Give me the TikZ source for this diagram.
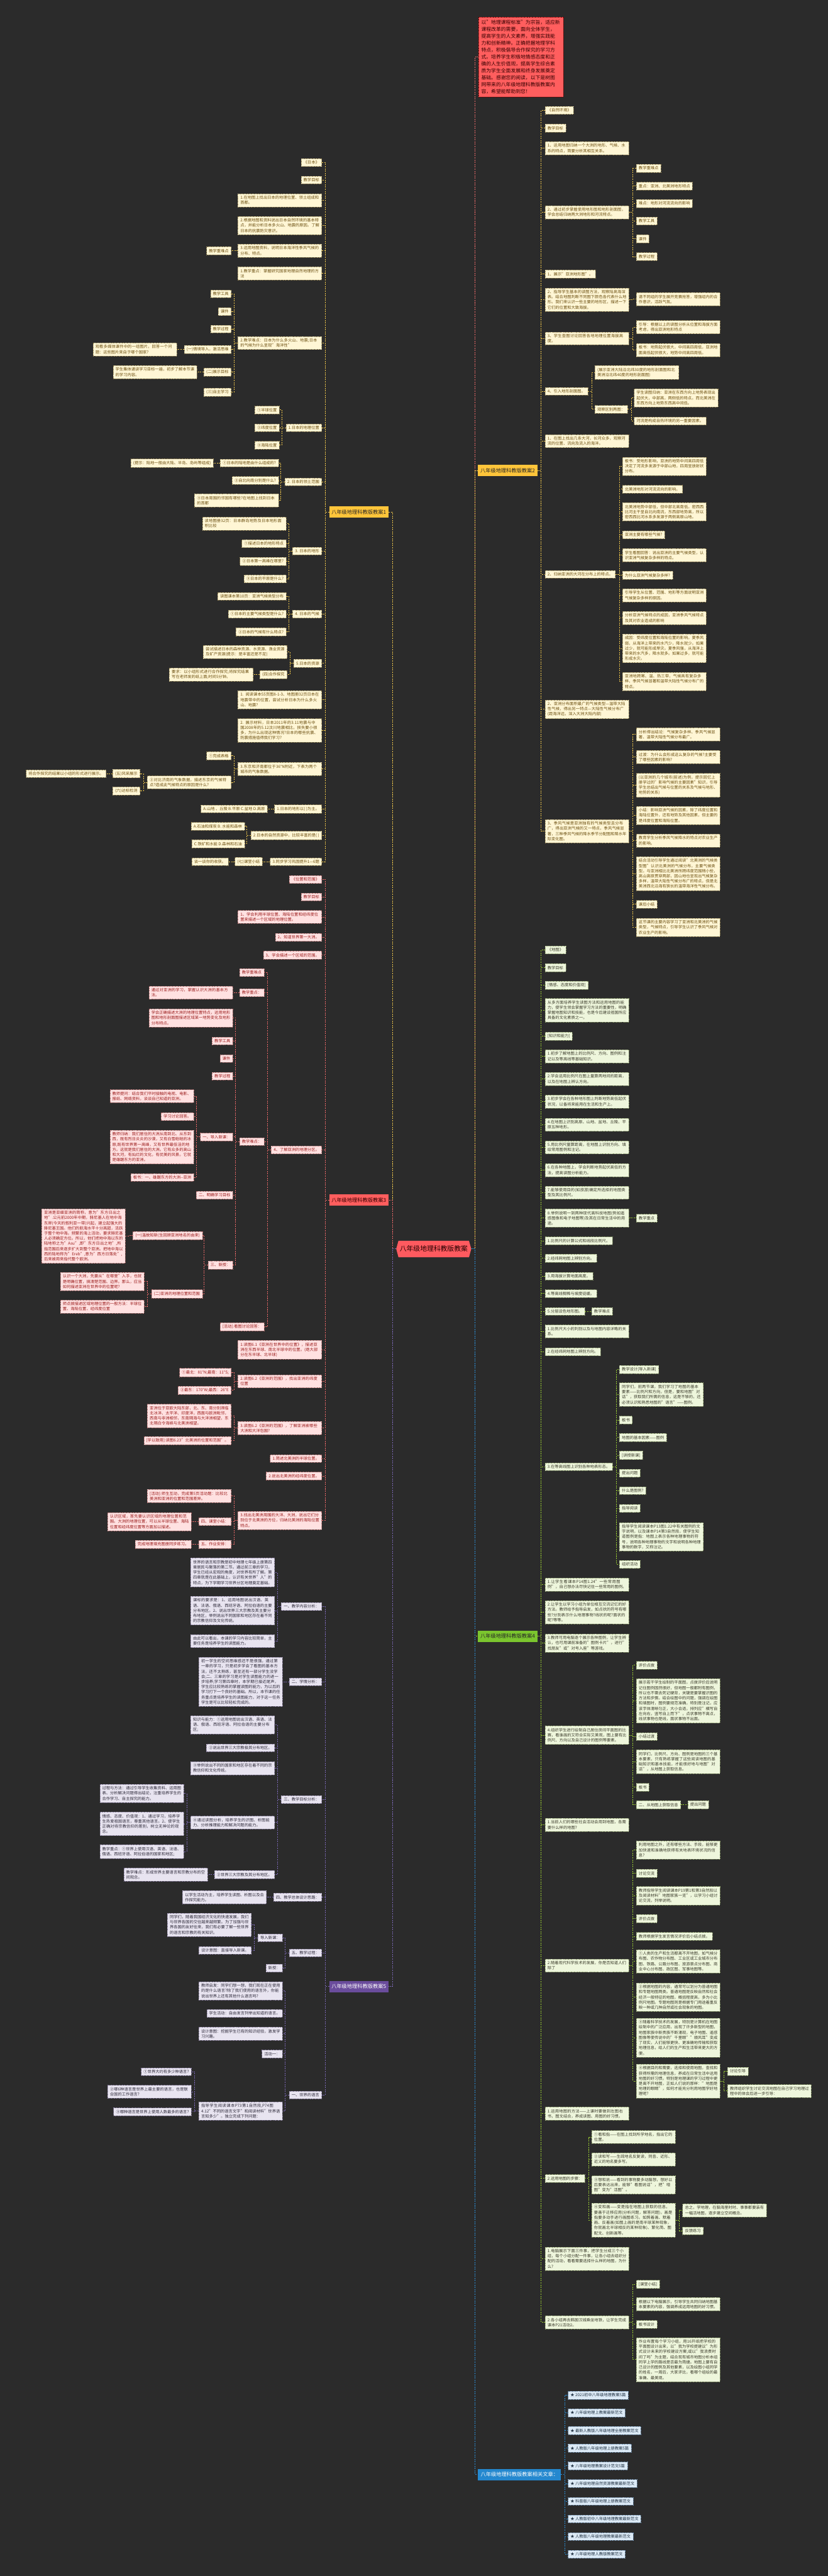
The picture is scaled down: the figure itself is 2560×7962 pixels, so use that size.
\documentclass[tikz,border=0pt]{standalone}
\usepackage{fontspec}
\setmainfont{Noto Sans CJK SC}
\usepackage{tikz}
\usetikzlibrary{positioning}
\XeTeXlinebreaklocale "zh"
\XeTeXlinebreakskip=0pt plus 1pt
\definecolor{bgc}{HTML}{2B2B2B}
\definecolor{rootc}{HTML}{FF5A5F}
\definecolor{ylw}{HTML}{FFC53A}
\definecolor{ycream}{HTML}{FFF6D5}
\definecolor{yedge}{HTML}{9A8A5A}
\definecolor{ytext}{HTML}{6B4F10}
\definecolor{ylinkc}{HTML}{F2C94C}
\definecolor{redc}{HTML}{FF5E5E}
\definecolor{rpink}{HTML}{FFE1E1}
\definecolor{redge}{HTML}{B07070}
\definecolor{rtext}{HTML}{9B1C1C}
\definecolor{rlinkc}{HTML}{EE6A6A}
\definecolor{grn}{HTML}{7BC52E}
\definecolor{gpale}{HTML}{EEF6DC}
\definecolor{gedge}{HTML}{8A9A6A}
\definecolor{gtext}{HTML}{3B3B2B}
\definecolor{glinkc}{HTML}{9ACD32}
\definecolor{prp}{HTML}{6A4C9C}
\definecolor{ppale}{HTML}{E8E4F0}
\definecolor{pedge}{HTML}{8A80A0}
\definecolor{ptext}{HTML}{2E2A3A}
\definecolor{plinkc}{HTML}{7B68B5}
\definecolor{blu}{HTML}{2488CF}
\definecolor{bpale}{HTML}{DCEAF6}
\definecolor{bedge}{HTML}{7090B0}
\definecolor{btext}{HTML}{223344}
\definecolor{blinkc}{HTML}{2C8FD6}
\newcommand{\leaffont}{\fontsize{12.2}{16}\selectfont}
\newcommand{\labfont}{\fontsize{16}{19}\selectfont}
\newcommand{\linkR}[3]{\foreach \c in {#3}{\draw[#1] (#2.east) -- ++(12,0) |- (\c.west);}}
\newcommand{\linkL}[3]{\foreach \c in {#3}{\draw[#1] (#2.west) -- ++(-12,0) |- (\c.east);}}
\tikzset{
  leaf/.style={rectangle, draw, dash pattern=on 3pt off 2pt, line width=0.8pt,
    inner xsep=7.5pt, inner ysep=6.5pt, font=\leaffont, align=left},
  wtxt/.style={text width=244pt},
  ry/.style={leaf, anchor=west, fill=ycream, draw=yedge, text=ytext},
  ly/.style={leaf, anchor=east, fill=ycream, draw=yedge, text=ytext},
  lr/.style={leaf, anchor=east, fill=rpink, draw=redge, text=rtext},
  rg/.style={leaf, anchor=west, fill=gpale, draw=gedge, text=gtext},
  lp/.style={leaf, anchor=east, fill=ppale, draw=pedge, text=ptext},
  rb/.style={leaf, anchor=west, fill=bpale, draw=bedge, text=btext},
  branch/.style={rectangle, inner xsep=7pt, inner ysep=10pt, font=\labfont},
  link/.style={dash pattern=on 4pt off 3pt, line width=1.6pt},
  ylink/.style={link, draw=ylinkc},
  rlink/.style={link, draw=rlinkc},
  glink/.style={link, draw=glinkc},
  plink/.style={link, draw=plinkc},
  blink/.style={link, draw=blinkc}
}
\begin{document}
\begin{tikzpicture}[x=1pt, y=-1pt]
\useasboundingbox (0,0) rectangle (2560,7962);
\fill[bgc] (0,0) rectangle (2560,7962);

% root
\fill[rootc] (1225,3860) -- (1232,3835) -- (1450,3835) -- (1457,3860) -- (1450,3886) -- (1232,3886) -- cycle;
\node[minimum width=232pt, minimum height=51pt, inner sep=0pt, font=\fontsize{21}{24}\selectfont, text=black!85!red] (root) at (1341,3860) {八年级地理科教版教案};

% intro
\node[rectangle, anchor=north west, fill=redc, draw=red!45!black, dash pattern=on 3pt off 2pt, text=black!80!red,
  text width=245pt, inner xsep=9pt, inner ysep=10pt, align=left, font=\fontsize{15.2}{21.3}\selectfont] (intro) at (1479,52)
  {以"地理课程标准"为宗旨，适应新\\课程改革的需要，面向全体学生，\\提高学生的人文素养，增强实践能\\力和创新精神。正确把握地理学科\\特点，积极倡导合作探究的学习方\\式。培养学生积极地情感态度和正\\确的人生价值观，提高学生综合素\\质为学生全面发展和终身发展奠定\\基础。感谢您的阅读，以下是树图\\网带来的八年级地理科教版教案内\\容，希望能帮助到您！};

% branch labels
\node[branch, anchor=east, fill=ylw, text=black!85] (A) at (1201,1583) {八年级地理科教版教案1};
\node[branch, anchor=west, fill=ylw, text=black!85] (B) at (1478,1454) {八年级地理科教版教案2};
\node[branch, anchor=east, fill=redc, text=black!80!red] (C) at (1201,3709) {八年级地理科教版教案3};
\node[branch, anchor=west, fill=grn, text=black!85] (D) at (1478,5057) {八年级地理科教版教案4};
\node[branch, anchor=east, fill=prp, text=white] (E) at (1201,6140) {八年级地理科教版教案5};
\node[branch, anchor=west, fill=blu, text=white, inner xsep=8pt] (F) at (1478,7648) {八年级地理科教版教案相关文章：};

\draw[rlink] (root.east) -- ++(11,0) |- (intro.west);
\linkR{ylink}{root}{B}
\linkR{glink}{root}{D}
\linkR{blink}{root}{F}
\linkL{ylink}{root}{A}
\linkL{rlink}{root}{C}
\linkL{plink}{root}{E}

% ---- 教案2 (right, yellow)
\node[ry] (B1) at (1685,341) {《自然环境》};
\node[ry] (B2) at (1685,396) {教学目标};
\node[ry, wtxt] (B3) at (1685,458) {1、运用地图归纳一个大洲的地形、气候、水系的特点，简要分析其相互关系。};
\node[ry, wtxt] (B4) at (1685,656) {2、通过初步掌握使用地形图和地形剖面图，学会总结归纳两大洲地形和河流特点。};
\node[ry] (B4a) at (1967,520) {教学重难点};
\node[ry] (B4b) at (1967,575) {重点：亚洲、北美洲地形特点};
\node[ry] (B4c) at (1967,629) {难点：地形对河流流向的影响};
\node[ry] (B4d) at (1967,683) {教学工具};
\node[ry] (B4e) at (1967,738) {课件};
\node[ry] (B4f) at (1967,793) {教学过程};
\node[ry] (B5) at (1685,847) {1、展示"亚洲地形图"。};
\node[ry, wtxt] (B6) at (1685,926) {2、指导学生基本的读图方法，观察陆高海深表。结合地图判断不同图下颜色各代表什么地形。我们来认识一些主要的地形区，描述一下它们的位置和大致海拔。};
\node[ry, wtxt] (B6a) at (1967,925) {请不同组的学生展开竞赛抢答，增强组内的合作意识，活跃气氛。};
\node[ry, wtxt] (B7) at (1685,1046) {3、学生查图讨论回答各地地理位置海拔高度。};
\node[ry, wtxt] (B7a) at (1967,1011) {引导：根据以上的读图分析从位置和海拔方面考虑，得出亚洲地形特点};
\node[ry, wtxt] (B7b) at (1967,1082) {板书：地势起伏很大，中间高四周低，亚洲地面高低起伏很大，地势中间高四周低。};
\node[ry] (B8) at (1685,1209) {4、引入地形剖面图。};
\node[ry, wtxt] (B8a) at (1839,1151) {(展示亚洲大陆沿北纬30度的地形剖面图和北美洲沿北纬40度的地形剖面图)};
\node[ry] (B8b) at (1839,1265) {观察区别两图：};
\node[ry, wtxt] (B8b1) at (1960,1230) {学生读图归纳：亚洲在东西方向上地势表现出起伏大，中部高，两侧低的特点。而北美洲在东西方向上地势东西高中间低。};
\node[ry] (B8b2) at (1960,1301) {河流是构成自热环境的另一重要因素。};
\node[ry, wtxt] (B9) at (1685,1363) {1、在图上找出几条大河，长河众多，观察河流的位置、流向及流入的海洋。};
\node[ry] (B10) at (1685,1775) {2、归纳亚洲的大河在分布上的特点。};
\node[ry, wtxt] (B10a) at (1924,1441) {板书：受地形影响，亚洲的地势中间高四周低决定了河流多发源于中部山地，四周呈放射状分布。};
\node[ry] (B10c) at (1924,1512) {北美洲地形对河流流向的影响。};
\node[ry, wtxt] (B10d) at (1924,1582) {北美洲地势中部低，但中部北高南低。密西西比河主干呈自北向南流，东西部地势高，所以密西西比河水系多发源于两侧高原山地。};
\node[ry] (B10e) at (1924,1653) {亚洲主要有哪些气候?};
\node[ry, wtxt] (B10f) at (1924,1716) {学生看图回答：说出亚洲的主要气候类型，认识亚洲气候复杂多样的特点。};
\node[ry] (B10g) at (1924,1778) {为什么亚洲气候复杂多样?};
\node[ry, wtxt] (B10h) at (1924,1840) {引导学生从位置、范围、地形等方面说明亚洲气候复杂多样的原因。};
\node[ry, wtxt] (B10i) at (1924,1910) {分析亚洲气候特点的成因，亚洲季风气候特点及其对农业造成的影响};
\node[ry, wtxt] (B10j) at (1924,2004) {成因：受纬度位置和海陆位置的影响。夏季风弱，从海洋上带来的水汽少，降水就少。如果过少，就可能形成旱灾。夏季风强，从海洋上带来的水汽多，降水就多。如果过多，就可能形成水灾。};
\node[ry, wtxt] (B10k) at (1924,2106) {亚洲地跨寒、温、热三带，气候具有复杂多样、季风气候显著和温带大陆性气候分布广的特点。};
\node[ry, wtxt] (B11) at (1685,2192) {2、亚洲分布面积最广的气候类型—温带大陆性气候，得出另一特点—大陆性气候分布广(距海洋远，深入大洲大陆内部)};
\node[ry, wtxt] (B12) at (1685,2569) {3、季风气候是亚洲独有的气候类型且分布广，得出亚洲气候的又一特点，季风气候显著，三种季风气候的降水季节分配图和降水年际变化图。};
\node[ry, wtxt] (B12a) at (1967,2270) {分析得出结论：气候复杂多样、季风气候显著、温带大陆性气候分布最广。};
\node[ry, wtxt] (B12b) at (1967,2340) {过渡：为什么会形成这么复杂的气候?主要受了哪些因素的影响?};
\node[ry, wtxt] (B12c) at (1967,2427) {(以亚洲的几个城市(前述)为例，提示回忆上册学过的"影响气候的主要因素"知识，引导学生总结出气候与位置的关系及气候与地形、地势的关系)};
\node[ry, wtxt] (B12d) at (1967,2520) {小结：影响亚洲气候的因素，除了纬度位置和海陆位置外，还有地势及其他因素，但主要的是纬度位置和海陆位置。};
\node[ry, wtxt] (B12e) at (1967,2598) {教育学生分析季风气候降水的特点对农业生产的影响。};
\node[ry, wtxt] (B12f) at (1967,2700) {结合活动引导学生通过阅读"北美洲的气候类型图"认识北美洲的气候分布，主要气候类型。与亚洲相比北美洲所跨纬度范围稍小些，高山高原贯穿两部，因山地也呈现出气候复杂多样，温带大陆性气候分布广的特点，但是北美洲西北沿海有狭长的温带海洋性气候分布。};
\node[ry] (B12g) at (1967,2795) {课后小结};
\node[ry, wtxt] (B12h) at (1967,2866) {这节课的主要内容学习了亚洲和北美洲的气候类型，气候特点，引导学生认识了季风气候对农业生产的影响。};

\linkR{ylink}{B}{B1,B2,B3,B4,B5,B6,B7,B8,B9,B10,B11,B12}
\linkR{ylink}{B4}{B4a,B4b,B4c,B4d,B4e,B4f}
\linkR{ylink}{B6}{B6a}
\linkR{ylink}{B7}{B7a,B7b}
\linkR{ylink}{B8}{B8a,B8b}
\linkR{ylink}{B8b}{B8b1,B8b2}
\linkR{ylink}{B10}{B10a,B10c,B10d,B10e,B10f,B10g,B10h,B10i,B10j,B10k}
\linkR{ylink}{B12}{B12a,B12b,B12c,B12d,B12e,B12f,B12g,B12h}

% ---- 教案4 (right, green)
\node[rg] (D1) at (1685,2936) {《地图》};
\node[rg] (D2) at (1685,2991) {教学目标};
\node[rg] (D3) at (1685,3045) {[情感、态度和价值观]};
\node[rg, wtxt] (D4) at (1685,3122) {从多方面培养学生读图方法和运用地图的能力，使学生领会掌握学习方法的重要性，明确掌握地图知识和技能，也是今后建设祖国所应具备的文化素质之一。};
\node[rg] (D5) at (1685,3202) {[知识和能力]};
\node[rg, wtxt] (D6) at (1685,3265) {1.初步了解地图上的比例尺、方向、图例和注记以及等高线等基础知识。};
\node[rg, wtxt] (D7) at (1685,3335) {2.学会运用比例尺在图上量算两地间的距离，以及在地图上辨认方向。};
\node[rg, wtxt] (D8) at (1685,3405) {3.初步学会在各种地形图上判断地势高低起伏状况，以备将来能用在生活和生产上。};
\node[rg, wtxt] (D9) at (1685,3476) {4.在地图上识别高原、山地、盆地、丘陵、平原五种地形。};
\node[rg, wtxt] (D10) at (1685,3546) {5.用比例尺量算距离，在地图上识别方向、填绘常用图例和注记。};
\node[rg, wtxt] (D11) at (1685,3617) {6.在各种地图上，学会判断地势起伏高低的方法，提高读图分析能力。};
\node[rg, wtxt] (D12) at (1685,3686) {7.能够使用目的(如旅游)确定所选择的地图类型及其比例尺。};
\node[rg, wtxt] (D13) at (1685,3765) {8.举例说明一到两种现代高科技地图(例如遥感图像和电子地图等)及其在日常生活中的用途。};
\node[rg] (D13a) at (1967,3765) {教学重点};
\node[rg] (D14) at (1685,3835) {1.比例尺的计算公式和线段比例尺。};
\node[rg] (D15) at (1685,3889) {2.经纬网地图上辨别方向。};
\node[rg] (D16) at (1685,3944) {3.用海拔计算地面高度。};
\node[rg] (D17) at (1685,3998) {4.等高线稠稀与坡度徒缓。};
\node[rg] (D18) at (1685,4053) {5.分层设色地形图。};
\node[rg] (D18a) at (1829,4053) {教学难点};
\node[rg, wtxt] (D19) at (1685,4115) {1.比例尺大小的判别以及与地图内容详略的关系。};
\node[rg] (D20) at (1685,4178) {2.在经纬网地图上辨别方向。};
\node[rg] (D21) at (1685,4533) {3.在等高线图上识别各种地表形态。};
\node[rg] (D21a) at (1915,4233) {教学设计[导入新课]};
\node[rg, wtxt] (D21b) at (1915,4310) {同学们，前两节课，我们学习了地图的基本要素——比例尺和方向，但是，要和地图"对话"，获取我们所需的信息，这是不够的，还必须认识和熟悉地图的"语言"——图例。};
\node[rg] (D21c) at (1915,4389) {板书};
\node[rg] (D21d) at (1915,4443) {地图的基本因素——图例};
\node[rg] (D21e) at (1915,4498) {[讲授新课]};
\node[rg] (D21f) at (1915,4553) {提出问题};
\node[rg] (D21g) at (1915,4607) {什么是图例?};
\node[rg] (D21h) at (1915,4662) {指导阅读};
\node[rg, wtxt] (D21i) at (1915,4750) {指导学生阅读课本P13图1.22中有关图例的文字说明，以及课本P14第3自然段，使学生知道图例是指：地图上表示各种地理事物的符号，说明各种地理事物的文字和说明各种地理事物的数字，又称注记。};
\node[rg] (D21j) at (1915,4835) {组织活动};
\node[rg, wtxt] (D22) at (1685,4897) {1.让学生看课本P14图1.24"一些常用图例"，自己想办法尽快记住一些常用的图例。};
\node[rg, wtxt] (D23) at (1685,4983) {2.让学生以学习小组为单位相互交流记忆的好方法。教师给予指导启发，如点状的符号有哪些?分别表示什么地理事物?线状的呢?面状的呢?等等。};
\node[rg, wtxt] (D24) at (1685,5078) {3.教师可用电脑逐个展示各种图例，让学生辨认，也可用课前准备的"图例卡片"，进行"找朋友"或"对号入座"等游戏。};
\node[rg, wtxt] (D25) at (1685,5363) {4.组织学生进行绘制自己居住房间平面图的比赛，看谁画的又符合实际又美观，图上要有比例尺、方向以及自己设计的图例等要素。};
\node[rg] (D25a) at (1967,5147) {评价点拨};
\node[rg, wtxt] (D25b) at (1967,5257) {展示若干学生绘制的平面图，点拨评价后说明记住图例固然很好，但地图一般都附有图例，所以也不需去死记硬背，关键是要掌握识图的方法和步骤。结合绘图中的问题，强调在绘图和填图时，图例要规范准确，特别是注记，应该字体清晰匀正，大小合适，排列应"横写自左向右，竖写自上而下"，点状事物不离点，线状事物也是线，面状事物不出面。};
\node[rg] (D25c) at (1967,5367) {小结过渡};
\node[rg, wtxt] (D25d) at (1967,5445) {同学们，比例尺、方向、图例是地图的三个基本要素，只有熟练掌握了这些阅读地图的基础知识和基本技能，才能很好地与地图"对话"，从地图上获取信息。};
\node[rg] (D25e) at (1967,5524) {板书};
\node[rg] (D25f) at (1967,5578) {二、从地图上获取信息};
\node[rg] (D25f1) at (2126,5578) {提出问题};
\node[rg, wtxt] (D26) at (1685,5640) {1.当前人们的哪些社会活动会用到地图，各需要什么样的地图?};
\node[rg, wtxt] (D27) at (1685,6075) {2.随着现代科学技术的发展，你是否知道人们除了};
\node[rg, wtxt] (D27a) at (1967,5718) {利用地图之外，还有哪些方法、手段，能够更加快速和准确地获得有关地表环境状况的信息?};
\node[rg] (D27b) at (1967,5790) {讨论交流};
\node[rg, wtxt] (D27c) at (1967,5859) {教师指导学生阅读课本P19第1和第3自然段以及阅读材料"地图家族一览"，以学习小组讨论交流，列举说明。};
\node[rg] (D27d) at (1967,5930) {评价点拨};
\node[rg] (D27e) at (1967,5985) {教师根据学生发言情况评价后小结点拨。};
\node[rg, wtxt] (D27f) at (1967,6062) {①人类的生产和生活都离不开地图，如气候分布图、农作物分布图、工业区或工业城市分布图、铁路、公路分布图、旅游景点分布图、商业中心分布图、政区图、军事地图等。};
\node[rg, wtxt] (D27g) at (1967,6173) {②根据地图的内容，通常可以划分为普通地图和专题地图两类。普通地图是反映自然和社会经济一般特征的地图，概括程度高，多为小比例尺地图。专题地图则是根据专门用途着重反映一种或几种自然或社会现象的地图。};
\node[rg, wtxt] (D27h) at (1967,6298) {③随着科学技术的发展，特别是计算机在地图绘制中的广泛应用，出现了许多新型的地图，地图家族中新贵族不断涌现，电子地图、遥感图像等使传说中的"千里眼""顺风耳"变成了现实，人们能够更快、更准确地传输和获取地理信息，给人们的生产和生活带来更大的方便。};
\node[rg, wtxt] (D27i) at (1967,6432) {④根据目的和需要，选择和使用地图，查找和获得所需的地理信息，养成在日常生活中运用地图的好习惯。特别是地理课的学习过程中更是离不开地图，正如人们说的那样："地图是地理的眼睛"，如何才能充分利用地图学好地理呢?};
\node[rg] (D27i1) at (2249,6402) {讨论引导};
\node[rg, wtxt] (D27i2) at (2249,6463) {教师组织学生讨论交流地图在自己学习地理过程中的体会后进一步引导：};
\node[rg, wtxt] (D28) at (1685,6533) {1.运用地图的方法——上课时要做到左图右书，图文结合，养成读图、用图的好习惯。};
\node[rg] (D29) at (1685,6733) {2.运用地图的步骤：};
\node[rg, wtxt] (D29a) at (1829,6605) {①看和指——在图上找到所学地名，指出它的位置。};
\node[rg, wtxt] (D29b) at (1829,6674) {②读和写——生疏地名反复读，同音、近形、近义的地名要多写。};
\node[rg, wtxt] (D29c) at (1829,6753) {③想和说——看到的事物要多动脑想，想好以后要表达出来，能够"看图说话"，把"哑图"变为"活图"。};
\node[rg, wtxt] (D29d) at (1829,6862) {④变和画——变是指在地图上获取的信息，要善于迁移应用(分析问题，解答问题)，画是指要多动手进行画图练习。如照着画、默着画、反着画(如图上画的是南半球某种现象，你就画北半球相反的某种现象)、繁化简、图配文、创新画等。};
\node[rg, wtxt] (D29d1) at (2110,6832) {总之，学地理，在脑海里时时、事事都要装有一幅活地图，逐步建立空间概念。};
\node[rg] (D29d2) at (2110,6895) {反馈练习};
\node[rg, wtxt] (D30) at (1685,6981) {1.电脑展示下面三件事，把学生分成三个小组，每个小组分配一件事，让各小组去组织分配的活动，看看需要选择什么样的地图，为什么?};
\node[rg, wtxt] (D31) at (1685,7178) {2.各小组再去韩国汉城乘坐地铁，让学生完成课本P21活动2。};
\node[rg] (D31a) at (1967,7060) {[课堂小结]};
\node[rg, wtxt] (D31b) at (1967,7122) {根据以下电脑展示，引导学生共同归纳地图基本要素的内容，强调养成运用地图的好习惯。};
\node[rg] (D31c) at (1967,7184) {板书设计};
\node[rg, wtxt] (D31d) at (1967,7293) {作业布置每个学习小组，用16开纸把学校的平面图设计出来，以"我为学校提建议"为形式设计未来的学校建设方案;或以"我浪费时间了吗"为主题，结合现有城市地图分析本组同学上学的路线是否最为简捷。地图上要有自己设计的图例及其他要素，以及绘图小组同学的姓名，一周后，大家评比，看哪个组绘的最准确、最美观。};

\linkR{glink}{D}{D1,D2,D3,D4,D5,D6,D7,D8,D9,D10,D11,D12,D13,D14,D15,D16,D17,D18,D19,D20,D21,D22,D23,D24,D25,D26,D27,D28,D29,D30,D31}
\linkR{glink}{D13}{D13a}
\linkR{glink}{D18}{D18a}
\linkR{glink}{D21}{D21a,D21b,D21c,D21d,D21e,D21f,D21g,D21h,D21i,D21j}
\linkR{glink}{D25}{D25a,D25b,D25c,D25d,D25e,D25f}
\linkR{glink}{D25f}{D25f1}
\linkR{glink}{D27}{D27a,D27b,D27c,D27d,D27e,D27f,D27g,D27h,D27i}
\linkR{glink}{D27i}{D27i1,D27i2}
\linkR{glink}{D29}{D29a,D29b,D29c,D29d}
\linkR{glink}{D29d}{D29d1,D29d2}
\linkR{glink}{D31}{D31a,D31b,D31c,D31d}

% ---- related articles (right, blue)
\foreach \t [count=\i] in {2021初中八年级地理教案5篇, 八年级地理上教案最新范文, 最新人教版八年级地理全册教案范文, 人教版八年级地理上册教案5篇, 八年级地理教案设计范文5篇, 八年级地理自然资源教案最新范文, 科普版八年级地理上册教案范文, 人教版初中八年级地理教案最新范文, 人教版八年级地理教案最新范文, 八年级地理人教版教案范文}{
  \node[rb] (F\i) at (1756,{7403+54.6*(\i-1)}) {★ \t};
}
\linkR{blink}{F}{F1,F2,F3,F4,F5,F6,F7,F8,F9,F10}

% ---- 教案1 (left, yellow)
\node[ly] (A1) at (995,502) {《日本》};
\node[ly] (A2) at (995,556) {教学目标};
\node[ly, wtxt] (A3) at (995,619) {1.在地图上找出日本的地理位置、领土组成和首都。};
\node[ly, wtxt] (A4) at (995,697) {2.根据地图和资料说出日本自然环境的基本特点，并能分析日本多火山、地震的原因。了解日本的抗震防灾意识。};
\node[ly, wtxt] (A5) at (995,775) {3.运用地图资料，说明日本海洋性季风气候的分布、特点。};
\node[ly] (A5a) at (715,775) {教学重难点};
\node[ly, wtxt] (A6) at (995,845) {1.教学重点：掌握研究国家地理自然地理的方法};
\node[ly, wtxt] (A7) at (995,1060) {2.教学难点：日本为什么多火山、地震;日本的气候为什么呈现"海洋性"};
\node[ly] (A7a) at (715,908) {教学工具};
\node[ly] (A7b) at (715,963) {课件};
\node[ly] (A7c) at (715,1017) {教学过程};
\node[ly] (A7d) at (715,1080) {(一)情境导入，激活思维};
\node[ly, wtxt] (A7d1) at (547,1080) {观看多媒体课件中的一组图片，回答一个问题：这些图片来自于哪个国家?};
\node[ly] (A7e) at (715,1150) {(二)展示目标};
\node[ly, wtxt] (A7e1) at (609,1150) {学生集体诵读学习目标一遍，初步了解本节课的学习内容。};
\node[ly] (A7f) at (715,1212) {(三)自主学习};
\node[ly] (A8) at (995,1322) {1.日本的地理位置};
\node[ly] (A8a) at (864,1267) {①半球位置};
\node[ly] (A8b) at (864,1322) {②纬度位置};
\node[ly] (A8c) at (864,1376) {③海陆位置};
\node[ly] (A9) at (995,1489) {2. 日本的领土范围};
\node[ly] (A9a) at (861,1431) {①日本的陆地是由什么组成的?};
\node[ly] (A9a1) at (660,1431) {(提示：陆地一般由大陆、半岛、岛屿等组成)};
\node[ly] (A9b) at (861,1485) {②自北向南分别是什么?};
\node[ly, wtxt] (A9c) at (861,1547) {③日本周围的邻国有哪些?在地图上找到日本的首都};
\node[ly] (A10) at (995,1703) {3. 日本的地形};
\node[ly, wtxt] (A10a) at (885,1618) {读地图册32页：日本群岛地势及日本地形面积比较};
\node[ly] (A10b) at (885,1680) {①描述日本的地形特点};
\node[ly] (A10c) at (885,1735) {②日本第一高峰在哪里?};
\node[ly] (A10d) at (885,1789) {③日本的平原是什么?};
\node[ly] (A11) at (995,1898) {4. 日本的气候};
\node[ly] (A11a) at (885,1843) {读图课本第10页：亚洲气候类型分布};
\node[ly] (A11b) at (885,1898) {①日本的主要气候类型是什么?};
\node[ly] (A11c) at (885,1953) {②日本的气候有什么特点?};
\node[ly] (A12) at (995,2050) {5.日本的资源};
\node[ly, wtxt] (A12a) at (888,2015) {尝试描述日本的森林资源、水资源、渔业资源及矿产资源(提示：是丰富还是不足)};
\node[ly] (A12b) at (888,2085) {(四)合作探究};
\node[ly, wtxt] (A12b1) at (783,2085) {要求：以小组形式进行合作探究;将探究结果写在老师发的纸上面;时间5分钟。};
\node[ly, wtxt] (A13) at (995,2163) {1. 阅读课本55页图8-1-3、地图册32页日本在地震带中的位置，尝试分析日本为什么多火山、地震?};
\node[ly, wtxt] (A14) at (995,2257) {2. 展示材料，日本2011年的3.11地震与中国2008年的5.12汶川地震相比，损失要小很多，为什么出现这种情况?日本的哪些抗震、防震措施值得我们学习?};
\node[ly, wtxt] (A15) at (995,2377) {3.东京和济南都位于36°N附近，下表为两个城市的气象数据。};
\node[ly] (A15a) at (715,2336) {①完成表格};
\node[ly, wtxt] (A15b) at (715,2418) {②对比济南的气象数据，描述东京的气候特点?造成此气候特点的原因是什么?};
\node[ly] (A15b1) at (433,2391) {(五)风采展示};
\node[ly] (A15b1a) at (328,2391) {将合作探究的结果以小组的形式进行展示。};
\node[ly] (A15b2) at (433,2445) {(六)达标检测};
\node[ly] (A16) at (995,2500) {1.日本的地形以( )为主。};
\node[ly] (A16a) at (827,2500) {A.山地 、丘陵 B.平原 C.盆地 D.高原};
\node[ly] (A17) at (995,2582) {2.日本的自然资源中，比较丰富的是( )};
\node[ly] (A17a) at (756,2554) {A.石油和煤炭 B. 水能和森林};
\node[ly] (A17b) at (756,2608) {C.铁矿和水能 D.森林和石油};
\node[ly] (A18) at (995,2663) {3.同步学习巩固提升1—6题};
\node[ly] (A18a) at (811,2663) {(七)课堂小结};
\node[ly] (A18a1) at (706,2663) {谈一谈你的收获。};

\linkL{ylink}{A}{A1,A2,A3,A4,A5,A6,A7,A8,A9,A10,A11,A12,A13,A14,A15,A16,A17,A18}
\linkL{ylink}{A5}{A5a}
\linkL{ylink}{A7}{A7a,A7b,A7c,A7d,A7e,A7f}
\linkL{ylink}{A7d}{A7d1}
\linkL{ylink}{A7e}{A7e1}
\linkL{ylink}{A8}{A8a,A8b,A8c}
\linkL{ylink}{A9}{A9a,A9b,A9c}
\linkL{ylink}{A9a}{A9a1}
\linkL{ylink}{A10}{A10a,A10b,A10c,A10d}
\linkL{ylink}{A11}{A11a,A11b,A11c}
\linkL{ylink}{A12}{A12a,A12b}
\linkL{ylink}{A12b}{A12b1}
\linkL{ylink}{A15}{A15a,A15b}
\linkL{ylink}{A15b}{A15b1,A15b2}
\linkL{ylink}{A15b1}{A15b1a}
\linkL{ylink}{A16}{A16a}
\linkL{ylink}{A17}{A17a,A17b}
\linkL{ylink}{A18}{A18a}
\linkL{ylink}{A18a}{A18a1}

% ---- 教案3 (left, red)
\node[lr] (C1) at (995,2718) {《位置和范围》};
\node[lr] (C2) at (995,2772) {教学目标};
\node[lr, wtxt] (C3) at (995,2834) {1、学会利用半球位置、海陆位置和经纬度位置来描述一个区域的地理位置。};
\node[lr] (C4) at (995,2897) {2、知道世界第一大洲。};
\node[lr] (C5) at (995,2952) {3、学会描述一个区域的范围。};
\node[lr] (C6) at (995,3554) {4、了解亚洲的地理分区。};
\node[lr] (C6a) at (817,3006) {教学重难点};
\node[lr] (C6b) at (817,3068) {教学重点：};
\node[lr, wtxt] (C6b1) at (720,3068) {通过对亚洲的学习，掌握认识大洲的基本方法。};
\node[lr] (C6c) at (817,3528) {教学难点：};
\node[lr, wtxt] (C6c1) at (720,3146) {学会正确描述大洲的地理位置特点，运用地形图和地形剖面图描述区域某一地势变化及地形分布特点。};
\node[lr] (C6c2) at (720,3217) {教学工具};
\node[lr] (C6c3) at (720,3272) {课件};
\node[lr] (C6c4) at (720,3326) {教学过程};
\node[lr] (C6c5) at (720,3514) {一、导入新课：};
\node[lr, wtxt] (C6c5a) at (599,3388) {教师提问：结合我们平时接触的电视、电影、报纸、网络资料，谈谈自己知道的亚洲。};
\node[lr] (C6c5b) at (599,3451) {学习讨论回答。};
\node[lr, wtxt] (C6c5c) at (599,3545) {教师归纳：我们居住的大洲从南到北、从东到西，既有烈日炎炎的沙漠，又有白雪皑皑的冰原;既有世界第一高峰，又有世界最低洼的地方。这就是我们居住的大洲。它有众多的高山和大河，有灿烂的文化，有优美的风景。它就是雄踞东方的亚洲。};
\node[lr] (C6c5d) at (599,3639) {板书：一、雄踞东方的大洲-{}-亚洲};
\node[lr] (C6c6) at (720,3694) {二、明确学习目标};
\node[lr] (C6c7) at (720,3910) {三、新授：};
\node[lr] (C6c7a) at (626,3819) {(一)温故知新(生回顾亚洲地名的由来)};
\node[lr, wtxt] (C6c7a1) at (388,3820) {亚洲是亚细亚洲的简称，意为"东方日出之地".公元前2000年中期，腓尼基人在地中海东岸(今天的叙利亚一带)兴起，建立起强大的腓尼基王国。他们的航海水平十分高超，活跃于整个地中海。频繁的海上活动，要求腓尼基人必须确定方位。所以，他们把地中海以东的陆地称之为"Asu",即"东方日出之地",所指范围后来逐步扩大到整个亚洲。把地中海以西的陆地称为"Ereb",意为"西方日落处",后来被用来指代整个欧洲。};
\node[lr] (C6c7b) at (626,3999) {(二)亚洲的地理位置和范围};
\node[lr, wtxt] (C6c7b1) at (446,3961) {认识一个大洲，先要从"在哪里"入手，也就是明确位置，搞清楚范围、边界。那么，应当如何描述亚洲在世界中的位置呢?};
\node[lr, wtxt] (C6c7b2) at (446,4038) {师点拨描述区域地理位置的一般方法：半球位置、海陆位置、经纬度位置};
\node[lr] (C6d) at (817,4101) {[活动]:看图讨论回答：};
\node[lr, wtxt] (C7) at (995,4172) {1.读图6.1《亚洲在世界中的位置》，描述亚洲在东西半球、南北半球中的位置。(绝大部分在东半球、北半球)};
\node[lr, wtxt] (C8) at (995,4269) {2.读图6.2《亚洲的范围》，找出亚洲的纬度位置};
\node[lr] (C8a) at (715,4242) {①最北：81°N;最南：11°S;};
\node[lr] (C8b) at (715,4297) {②最东：170°W;最西：26°E};
\node[lr, wtxt] (C9) at (995,4414) {3.读图6.2《亚洲的范围》，了解亚洲被哪些大洲和大洋包围?};
\node[lr, wtxt] (C9a) at (715,4376) {亚洲位于亚欧大陆东部，北、东、南分别濒临北冰洋、太平洋、印度洋，西面与欧洲毗邻，西南与非洲相邻，东南隔海与大洋洲相望，东北隔白令海峡与北美洲相望。};
\node[lr] (C9b) at (715,4453) {[学以致用]:读图6.23"北美洲的位置和范围"。};
\node[lr] (C10) at (995,4508) {1.简述北美洲的半球位置。};
\node[lr] (C11) at (995,4562) {2.说出北美洲的经纬度位置。};
\node[lr, wtxt] (C12) at (995,4699) {3.找出北美洲周围的大洋、大洲，说出它们分别位于北美洲的方位，归纳北美洲的海陆位置特点。};
\node[lr, wtxt] (C12a) at (715,4624) {[活动]:师生互动，完成第5页活动题：比较北美洲和亚洲的位置和范围差异。};
\node[lr] (C12b) at (715,4703) {四、课堂小结：};
\node[lr, wtxt] (C12b1) at (592,4703) {认识区域，首先要认识区域的地理位置和范围。大洲的地理位置，可以从半球位置、海陆位置和经纬度位置等方面加以描述。};
\node[lr] (C12c) at (715,4773) {五、作业安排：};
\node[lr] (C12c1) at (592,4773) {完成地理填充图册同步练习。};

\linkL{rlink}{C}{C1,C2,C3,C4,C5,C6,C7,C8,C9,C10,C11,C12}
\linkL{rlink}{C6}{C6a,C6b,C6c,C6d}
\linkL{rlink}{C6b}{C6b1}
\linkL{rlink}{C6c}{C6c1,C6c2,C6c3,C6c4,C6c5,C6c6,C6c7}
\linkL{rlink}{C6c5}{C6c5a,C6c5b,C6c5c,C6c5d}
\linkL{rlink}{C6c7}{C6c7a,C6c7b}
\linkL{rlink}{C6c7a}{C6c7a1}
\linkL{rlink}{C6c7b}{C6c7b1,C6c7b2}
\linkL{rlink}{C8}{C8a,C8b}
\linkL{rlink}{C9}{C9a,C9b}
\linkL{rlink}{C12}{C12a,C12b,C12c}
\linkL{rlink}{C12b}{C12b1}
\linkL{rlink}{C12c}{C12c1}

% ---- 教案5 (left, purple)
\node[lp] (E1) at (995,4965) {一、教学内容分析：};
\node[lp, wtxt] (E1a) at (849,4860) {世界的语言和宗教是初中地理七年级上册第四章居民与聚落的第二节。通过前三章的学习，学生已经从宏观的角度，对世界有所了解。第四章就是在此基础上，认识有关世界"人"的特点，为下学期学习世界分区地理奠定基础。};
\node[lp, wtxt] (E1b) at (849,4978) {课标的要求是：1、运用地图说出汉语、英语、法语、俄语、西班牙语、阿拉伯语的主要分布地区。2、说出世界三大宗教及其主要分布地区，举例说出不同国家和地区存在着不同的宗教信仰及文化传统。};
\node[lp, wtxt] (E1c) at (849,5072) {由此可以看出，本课的学习内容比较简单，主要任务是培养学生的读图能力。};
\node[lp] (E2) at (995,5198) {二、学情分析：};
\node[lp, wtxt] (E2a) at (874,5198) {初一学生的空间思维感还不是很强，通过第一章的学习，只是初步学会了看图的基本方法，还不太熟练，甚至还有一部分学生没学会;二、三章的学习是对学生读图能力的进一步培养;学习第四章时，本学期已接近尾声，学生应比较熟练的掌握读图的能力，为以后的学习打下一个良好的基础。所以，本节课的任务重点是培养学生的读图能力，对于这一任务学生是可以比较轻松完成的。};
\node[lp] (E3) at (995,5562) {三、教学目标分析：};
\node[lp, wtxt] (E3a) at (849,5331) {知识与能力：①运用地图说出汉语、英语、法语、俄语、西班牙语、阿拉伯语的主要分布区;};
\node[lp] (E3b) at (849,5402) {②说出世界三大宗教极其分布地区。};
\node[lp, wtxt] (E3c) at (849,5465) {③举例说出不同的国家和地区存在着不同的宗教信仰和文化传统。};
\node[lp, wtxt] (E3d) at (849,5633) {④通过读图分析，培养学生的识图、析图能力、分析推理能力和解决问题的能力。};
\node[lp, wtxt] (E3d1) at (568,5543) {过程与方法：通过引导学生收集资料、运用图表、分析解决问题得出结论，注重培养学生的合作学习、自主探究的能力。};
\node[lp, wtxt] (E3d2) at (568,5637) {情感、态度、价值观：1、通过学习，培养学生热爱祖国语言，尊重其他语言。2、使学生正确对待宗教信仰的差别，树立无神论的观念。};
\node[lp, wtxt] (E3d3) at (568,5723) {教学重点：①世界上使用汉语、英语、法语、俄语、西班牙语、阿拉伯语的国家和地区;};
\node[lp] (E3e) at (849,5794) {②世界三大宗教及其分布地区。};
\node[lp, wtxt] (E3e1) at (642,5794) {教学难点：形成世界主要语言和宗教分布的空间观念。};
\node[lp] (E4) at (995,5864) {四、教学总体设计思路：};
\node[lp, wtxt] (E4a) at (824,5864) {以学生活动为主，培养学生读图、析图以及合作探究能力。};
\node[lp] (E5) at (995,6036) {五、教学过程：};
\node[lp] (E5a) at (874,5989) {导入新课：};
\node[lp, wtxt] (E5a1) at (777,5949) {同学们，随着我国经济文化的快速发展，我们与世界各国的交往越来越频繁。为了加强与世界各国的友好往来，我们有必要了解一些世界的语言和宗教的有关知识。};
\node[lp] (E5a2) at (777,6028) {设计意图：直接导入新课。};
\node[lp] (E5b) at (874,6083) {新授：};
\node[lp] (E6) at (995,6475) {一、世界的语言};
\node[lp, wtxt] (E6a) at (874,6153) {教师启发：同学们想一想，我们现在正在使用的是什么语言?除了我们使用的语言外，你能说出世界上还有其他什么语言吗?};
\node[lp] (E6b) at (874,6223) {学生活动：自由发言列举出知道的语言。};
\node[lp, wtxt] (E6c) at (874,6286) {设计意图：挖掘学生已有的知识经验，激发学习兴趣。};
\node[lp] (E6d) at (874,6348) {活动一：};
\node[lp, wtxt] (E6e) at (874,6525) {指导学生阅读课本P73第1自然段,P74图4.12"不同的语言文字"和阅读材料"世界语言知多少"。独立完成下列问题：};
\node[lp] (E6e1) at (592,6403) {①世界大约有多少种语言?};
\node[lp, wtxt] (E6e2) at (592,6465) {②哪6种语言是世界上最主要的语言，也是联合国的工作语言?};
\node[lp] (E6e3) at (592,6527) {③哪种语言是世界上使用人数最多的语言?};

\linkL{plink}{E}{E1,E2,E3,E4,E5,E6}
\linkL{plink}{E1}{E1a,E1b,E1c}
\linkL{plink}{E2}{E2a}
\linkL{plink}{E3}{E3a,E3b,E3c,E3d,E3e}
\linkL{plink}{E3d}{E3d1,E3d2,E3d3}
\linkL{plink}{E3e}{E3e1}
\linkL{plink}{E4}{E4a}
\linkL{plink}{E5}{E5a,E5b}
\linkL{plink}{E5a}{E5a1,E5a2}
\linkL{plink}{E6}{E6a,E6b,E6c,E6d,E6e}
\linkL{plink}{E6e}{E6e1,E6e2,E6e3}
\end{tikzpicture}
\end{document}
